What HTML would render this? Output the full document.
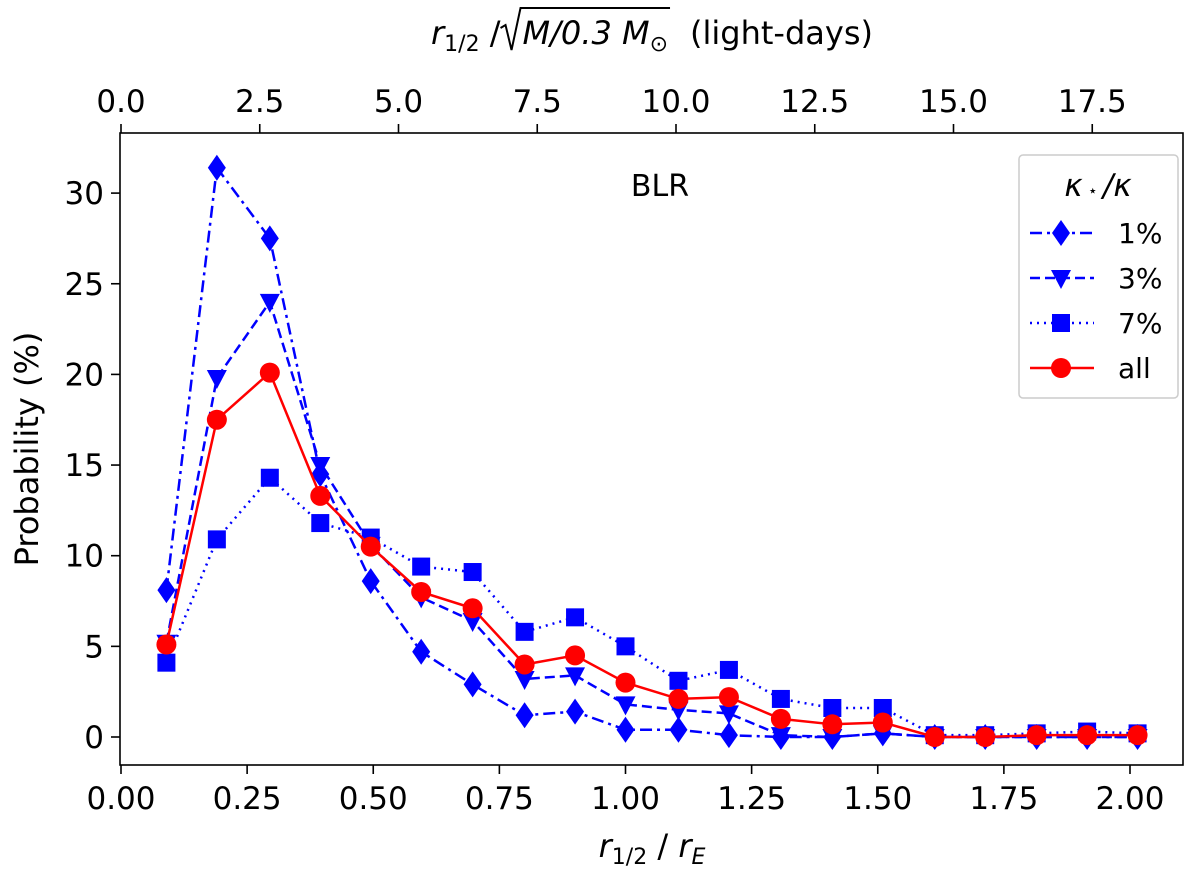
<!DOCTYPE html>
<html><head><meta charset="utf-8"><style>
body{margin:0;background:#fff}
svg text{font-family:"DejaVu Sans","Liberation Sans",sans-serif;fill:#000}
</style></head><body>
<svg id="c" width="1200" height="871" viewBox="0 0 1200 871" xmlns="http://www.w3.org/2000/svg"></svg>
<script>
const xs=[0.09,0.19,0.295,0.395,0.495,0.595,0.697,0.8,0.9,1.0,1.105,1.205,1.308,1.41,1.51,1.613,1.713,1.815,1.915,2.015];
const s1=[8.1,31.4,27.5,14.5,8.6,4.7,2.9,1.2,1.4,0.4,0.4,0.1,0,0,0.2,0,0,0,0,0];
const s3=[5.2,19.8,24,15,10.6,7.7,6.4,3.2,3.4,1.8,1.5,1.3,0.1,0,0.2,0,0,0,0,0];
const s7=[4.1,10.9,14.3,11.8,11,9.4,9.1,5.8,6.6,5,3.1,3.7,2.1,1.6,1.6,0.1,0.1,0.2,0.3,0.2];
const sAll=[5.1,17.5,20.1,13.3,10.5,8.0,7.1,4.0,4.5,3.0,2.1,2.2,1.0,0.7,0.8,0,0,0.1,0.1,0.1];
const xTicks=["0.00","0.25","0.50","0.75","1.00","1.25","1.50","1.75","2.00"];
const yTicks=["0","5","10","15","20","25","30"];
const topTicks=["0.0","2.5","5.0","7.5","10.0","12.5","15.0","17.5"];
const L=120,R=1183,T=133,B=765;
const X=v=>121+v*504.5, Y=v=>737-v*18.13, XT=v=>121+v*55.5;
const svg=document.getElementById('c');const NS='http://www.w3.org/2000/svg';
function mk(tag,attrs,parent){const e=document.createElementNS(NS,tag);for(const k in attrs)e.setAttribute(k,attrs[k]);(parent||svg).appendChild(e);return e;}
let f=mk('rect',{x:L,y:T,width:R-L,height:B-T,fill:'none',stroke:'#000','stroke-width':1.6});


xTicks.forEach(t=>{const x=X(+t);mk('line',{x1:x,x2:x,y1:B,y2:B+9,stroke:'#000','stroke-width':1.6});
 const e=mk('text',{x:x,y:B+44,'font-size':31,'text-anchor':'middle'});e.textContent=t;
 
 });
yTicks.forEach(t=>{const y=Y(+t);mk('line',{x1:L-9,x2:L,y1:y,y2:y,stroke:'#000','stroke-width':1.6});
 const e=mk('text',{x:L-16,y:y+11,'font-size':31,'text-anchor':'end'});e.textContent=t;
 
 });
topTicks.forEach(t=>{const x=XT(+t);mk('line',{x1:x,x2:x,y1:T-9,y2:T,stroke:'#000','stroke-width':1.6});
 const e=mk('text',{x:x,y:T-21,'font-size':31,'text-anchor':'middle'});e.textContent=t;
 
 });
function marker(type,x,y,col,g){
 if(type=='d')mk('polygon',{points:`${x},${y-13} ${x+9},${y} ${x},${y+13} ${x-9},${y}`,fill:col},g);
 else if(type=='v')mk('polygon',{points:`${x-10},${y-8} ${x+10},${y-8} ${x},${y+11}`,fill:col},g);
 else if(type=='s')mk('rect',{x:x-9,y:y-9,width:18,height:18,fill:col},g);
 else mk('circle',{cx:x,cy:y,r:10,fill:col},g);}
const series=[[s1,'d','#0000ff','12,5,3,5','series-1pct'],[s3,'v','#0000ff','10,5','series-3pct'],[s7,'s','#0000ff','2,5','series-7pct'],[sAll,'o','#ff0000','','series-all']];
series.forEach(([d,m,c,da,n])=>{const g=mk('g',{});
 
 
 mk('polyline',{points:d.map((v,i)=>X(xs[i])+','+Y(v)).join(' '),fill:'none',stroke:c,'stroke-width':2.5,'stroke-dasharray':da},g);
 d.forEach((v,i)=>marker(m,X(xs[i]),Y(v),c,g));});
const lg=mk('g',{});


mk('rect',{x:1019,y:155,width:159,height:243,rx:4,fill:'#fff',stroke:'#ccc','stroke-width':1.5},lg);
let tt=mk('text',{x:1098,y:196,'font-size':31,'text-anchor':'middle','font-style':'italic'},lg);tt.textContent='κ';
let ts=mk('tspan',{'font-size':16,'font-style':'normal'},tt);ts.textContent=' ⋆ ';
let t2=mk('tspan',{},tt);t2.textContent='/κ';
const labs=['1%','3%','7%','all'],ly=[233,278,323,368];
series.forEach(([d,m,c,da],i)=>{mk('line',{x1:1030,x2:1094,y1:ly[i],y2:ly[i],stroke:c,'stroke-width':2.5,'stroke-dasharray':da},lg);
 marker(m,1061,ly[i],c,lg);const e=mk('text',{x:1118,y:ly[i]+10,'font-size':28},lg);e.textContent=labs[i];
 
 });
let b=mk('text',{x:660,y:196,'font-size':30,'text-anchor':'middle'});b.textContent='BLR';


let xl=mk('text',{x:652,y:857,'font-size':32,'text-anchor':'middle'});xl.innerHTML='<tspan font-style="italic">r</tspan><tspan font-size="22" dy="7">1/2</tspan><tspan dy="-7"> / </tspan><tspan font-style="italic">r</tspan><tspan font-size="22" dy="7" font-style="italic">E</tspan>';


let yl=mk('text',{x:0,y:0,'font-size':32,'text-anchor':'middle',transform:'translate(38,449) rotate(-90)'});yl.textContent='Probability (%)';


// top title built from pieces
const tg=mk('g',{});


let pa=mk('text',{x:0,y:44,'font-size':32},tg);pa.innerHTML='<tspan font-style="italic">r</tspan><tspan font-size="22" dy="7">1/2</tspan><tspan dy="-7"> / </tspan>';
let pb=mk('text',{x:0,y:44,'font-size':32,'font-style':'italic'},tg);pb.innerHTML='M/0.3 M<tspan font-size="22" dy="7" font-style="normal">⊙</tspan>';
let pc=mk('text',{x:0,y:44,'font-size':32},tg);pc.textContent='(light-days)';
const wa=pa.getComputedTextLength(),wb=pb.getComputedTextLength(),wc=pc.getComputedTextLength(),rw=22,gap=22;
let x0=652-(wa+rw+wb+gap+wc)/2;
pa.setAttribute('x',x0);
const rx=x0+wa;
mk('polyline',{points:`${rx},28 ${rx+5},25 ${rx+11},50 ${rx+20},8 ${rx+rw+wb+2},8`,fill:'none',stroke:'#000','stroke-width':2},tg);
pb.setAttribute('x',rx+rw);
pc.setAttribute('x',rx+rw+wb+gap);
</script>
</body></html>
